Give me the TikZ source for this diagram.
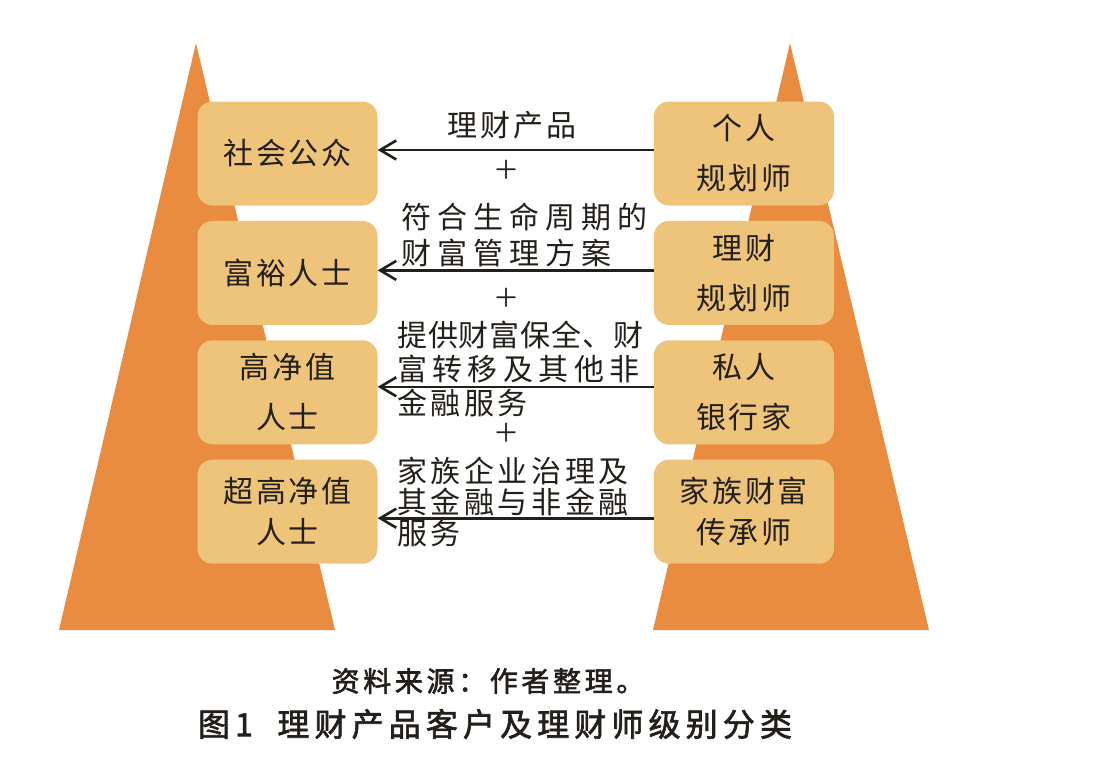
\documentclass[tikz,border=0pt]{standalone}
\usepackage{fontspec}
\newfontfamily\boxfont[LetterSpace=9]{Noto Sans CJK SC}
\newfontfamily\midfont{Noto Sans CJK SC}
\newfontfamily\capfont[FakeBold=2]{Noto Sans CJK SC}
\usetikzlibrary{arrows.meta,positioning}
\definecolor{peak}{HTML}{E98C3F}
\definecolor{tier}{HTML}{EEC47B}
\definecolor{ink}{HTML}{231F1A}

\begin{document}
\begin{tikzpicture}[x=1pt,y=-1pt,
  node distance=15pt and 276pt,
  tierbox/.style={fill=tier,rounded corners=15pt,minimum height=104pt,
    minimum width=180pt,inner sep=0pt,align=center,text=ink,
    font=\boxfont\fontsize{30}{50}\selectfont},
  tight/.style={font=\boxfont\fontsize{30}{41}\selectfont},
  note/.style={inner sep=0pt,align=left,anchor=west,text=ink},
  plus/.style={inner sep=0pt,text=ink,font=\midfont\fontsize{26}{26}\selectfont},
  arr/.style={-{Straight Barb[length=16pt,width=19pt,line width=2.6pt]},
    line width=2.6pt,ink}]
\useasboundingbox (0,0) rectangle (1101,766);
% two pyramids
\fill[peak] (196,43) -- (335,630) -- (59,630) -- cycle;
\fill[peak] (790,43) -- (929,630) -- (653,630) -- cycle;
% client tiers (left) and advisor tiers (right)
\node[tierbox] (l1) at (287.5,153.5) {社会公众};
\node[tierbox,below=of l1] (l2) {富裕人士};
\node[tierbox,below=of l2] (l3) {高净值\\人士};
\node[tierbox,tight,below=of l3] (l4) {超高净值\\人士};
\node[tierbox,right=of l1] (r1) {个人\\规划师};
\node[tierbox,right=of l2] (r2) {理财\\规划师};
\node[tierbox,right=of l3] (r3) {私人\\银行家};
\node[tierbox,tight,right=of l4] (r4) {家族财富\\传承师};
% service texts
\node[inner sep=0pt,text=ink,font={\midfont\addfontfeature{LetterSpace=10}\fontsize{30}{36}\selectfont}] (t1) at (512,125) {理财产品};
\node[plus] (p1) at (506,170) {＋};
\node[note,font=\midfont\fontsize{30}{36}\selectfont] (t2) at (401,235)
  {\addfontfeature{LetterSpace=20}符合生命周期的\\\addfontfeature{LetterSpace=20}财富管理方案};
\node[plus] (p2) at (506,298) {＋};
\node[note,font=\midfont\fontsize{30}{34}\selectfont] (t3) at (397,369)
  {\addfontfeature{LetterSpace=3}提供财富保全、财\\\addfontfeature{LetterSpace=18}富转移及其他非\\\addfontfeature{LetterSpace=12}金融服务};
\node[plus] (p3) at (506,433) {＋};
\node[note,font=\midfont\fontsize{30}{31}\selectfont] (t4) at (397,502)
  {\addfontfeature{LetterSpace=12}家族企业治理及\\\addfontfeature{LetterSpace=12}其金融与非金融\\\addfontfeature{LetterSpace=12}服务};
% arrows from advisors to clients
\draw[arr] ([yshift=3.5pt]r1.west) -- ([yshift=3.5pt]r1.west -| l1.east);
\draw[arr] ([yshift=2.5pt]r2.west) -- ([yshift=2.5pt]r2.west -| l2.east);
\draw[arr] ([yshift=5.5pt]r3.west) -- ([yshift=5.5pt]r3.west -| l3.east);
\draw[arr] ([yshift=-6.5pt]r4.west) -- ([yshift=-6.5pt]r4.west -| l4.east);
% caption
\node[inner sep=0pt,text=ink,font={\capfont\addfontfeature{LetterSpace=13}\fontsize{28}{32}\selectfont}] (src) at (488,681) {资料来源：作者整理。};
\node[inner sep=0pt,text=ink,font={\capfont\addfontfeature{LetterSpace=16}\fontsize{32}{36}\selectfont}] (cap) at (495,724) {图1\ \ 理财产品客户及理财师级别分类};
\end{tikzpicture}
\end{document}
